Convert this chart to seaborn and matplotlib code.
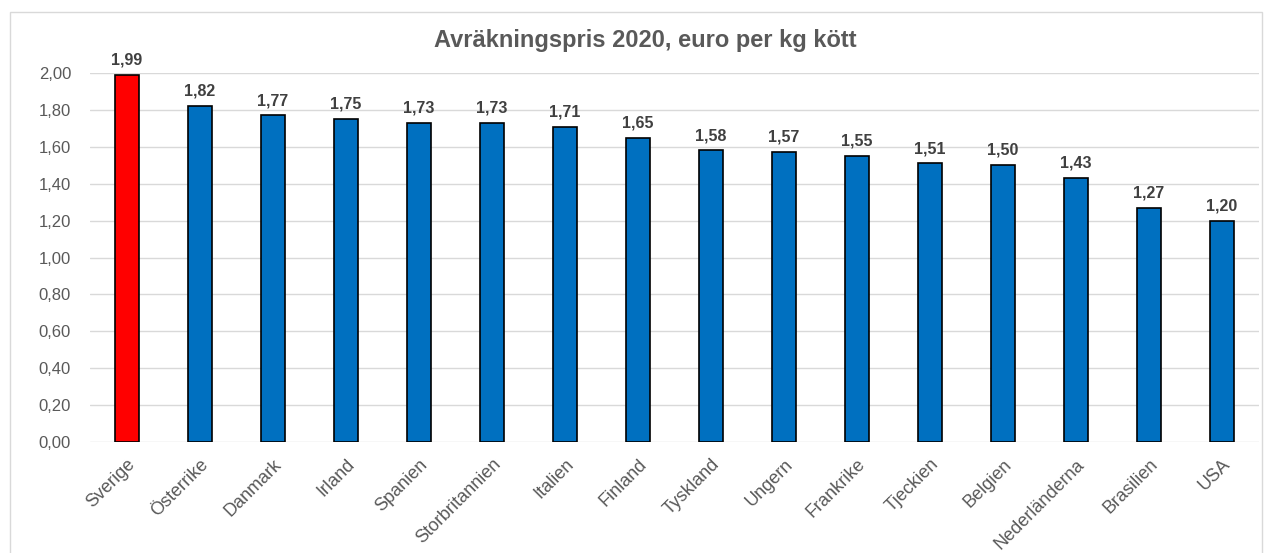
import matplotlib
matplotlib.use("Agg")
import matplotlib.pyplot as plt
import seaborn as sns
import pandas as pd
from matplotlib.patches import Rectangle

countries = ['Sverige', 'Österrike', 'Danmark', 'Irland', 'Spanien', 'Storbritannien',
             'Italien', 'Finland', 'Tyskland', 'Ungern', 'Frankrike', 'Tjeckien',
             'Belgien', 'Nederländerna', 'Brasilien', 'USA']
prices = [1.99, 1.82, 1.77, 1.75, 1.73, 1.73, 1.71, 1.65, 1.58, 1.57, 1.55, 1.51,
          1.50, 1.43, 1.27, 1.20]
yticks = [0.0, 0.2, 0.4, 0.6, 0.8, 1.0, 1.2, 1.4, 1.6, 1.8, 2.0]

df = pd.DataFrame({'land': countries, 'pris': prices})
colors = {c: ('#FF0000' if c == 'Sverige' else '#0070C0') for c in countries}

sns.set_style('white')
plt.rcParams['font.family'] = ['Liberation Sans', 'DejaVu Sans']

fig = plt.figure(figsize=(12.67, 5.53), dpi=100)
ax = fig.add_axes([0.0714, 0.2007, 0.9219, 0.6673])

sns.barplot(data=df, x='land', y='pris', hue='land', palette=colors, legend=False,
            saturation=1, width=0.33, edgecolor='black', linewidth=1.2, ax=ax)

ax.set_ylim(0, 2.0)
ax.set_xlim(-0.5, len(countries) - 0.5)
ax.set_yticks(yticks)
ax.set_yticklabels([f'{v:.2f}'.replace('.', ',') for v in yticks])
ax.yaxis.grid(True, color='#D9D9D9', linewidth=1)
ax.set_axisbelow(True)
for s in ax.spines.values():
    s.set_visible(False)
ax.tick_params(axis='both', length=0, labelcolor='#595959')
ax.tick_params(axis='y', pad=14, labelsize=12)
ax.tick_params(axis='x', pad=10, labelsize=13)
plt.setp(ax.get_xticklabels(), rotation=45, ha='right', rotation_mode='anchor')
ax.set_xlabel('')
ax.set_ylabel('')

for i, v in enumerate(prices):
    ax.text(i, v + 0.04, f'{v:.2f}'.replace('.', ','), ha='center', va='bottom',
            fontsize=11.5, fontweight='bold', color='#404040', clip_on=False)

fig.text(0.509, 0.927, 'Avräkningspris 2020, euro per kg kött', ha='center', va='center',
         fontsize=17, fontweight='bold', color='#595959')

fig.patches.append(Rectangle((10 / 1267, -0.01), 1252 / 1267, 1 - 12 / 553 + 0.01,
                             transform=fig.transFigure, fill=False,
                             edgecolor='#D9D9D9', linewidth=1))

fig.savefig('out.png', dpi=100)
